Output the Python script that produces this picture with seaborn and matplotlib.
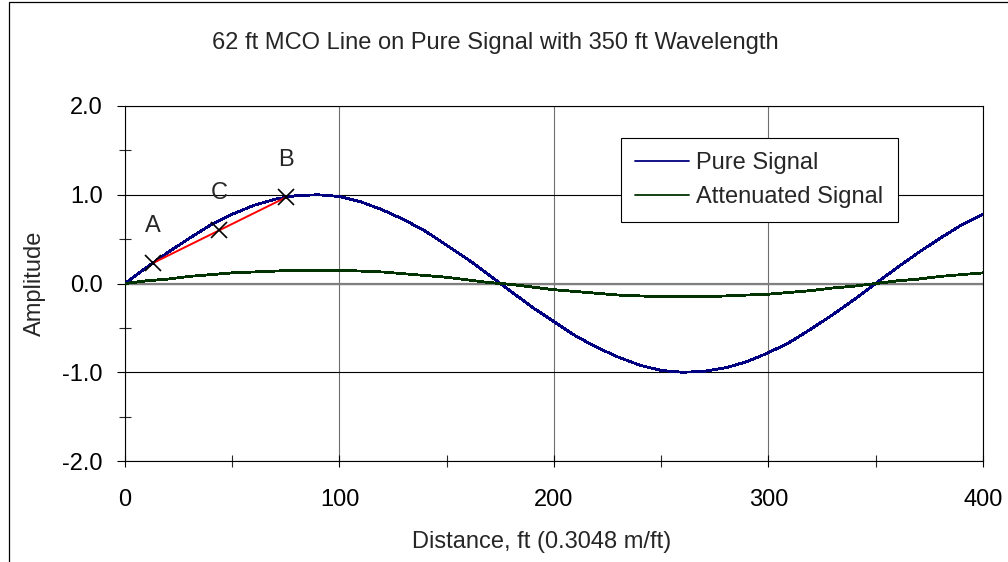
import numpy as np
import pandas as pd
import matplotlib
matplotlib.use('Agg')
import matplotlib.pyplot as plt
from matplotlib.patches import Rectangle
from matplotlib.ticker import MultipleLocator, FormatStrFormatter
import seaborn as sns

# --- data (every 10 ft) ---
distance_ft = list(range(0, 401, 10))
pure_signal = [0.00, 0.18, 0.35, 0.51, 0.66, 0.78, 0.88, 0.95, 0.99, 1.00,
               0.98, 0.92, 0.83, 0.72, 0.59, 0.43, 0.27, 0.09, -0.09, -0.27,
               -0.43, -0.59, -0.72, -0.83, -0.92, -0.98, -1.00, -0.99, -0.95, -0.88,
               -0.78, -0.66, -0.51, -0.35, -0.18, 0.00, 0.18, 0.35, 0.51, 0.66,
               0.78]
attenuated_signal = [0.00, 0.03, 0.05, 0.08, 0.10, 0.12, 0.13, 0.14, 0.15, 0.15,
                     0.15, 0.14, 0.13, 0.11, 0.09, 0.07, 0.04, 0.01, -0.01, -0.04,
                     -0.07, -0.09, -0.11, -0.13, -0.14, -0.15, -0.15, -0.15, -0.14, -0.13,
                     -0.12, -0.10, -0.08, -0.05, -0.03, 0.00, 0.03, 0.05, 0.08, 0.10,
                     0.12]
series_names = ['Pure Signal', 'Attenuated Signal']

# MCO chord points A, C, B
mco_x = [13, 44, 75]
mco_y = [0.23, 0.60, 0.97]
mco_labels = ['A', 'C', 'B']

df = pd.DataFrame({
    'Distance': distance_ft * 2,
    'Amplitude': pure_signal + attenuated_signal,
    'Series': [series_names[0]] * len(distance_ft) + [series_names[1]] * len(distance_ft),
})

sns.set_style('ticks')
plt.rcParams['font.family'] = ['Liberation Sans', 'DejaVu Sans']

fig = plt.figure(figsize=(10.08, 5.62), dpi=100)
ax = fig.add_axes([0.1240, 0.1797, 0.8512, 0.6317])

sns.lineplot(data=df, x='Distance', y='Amplitude', hue='Series',
             palette={'Pure Signal': '#000080', 'Attenuated Signal': '#003300'},
             linewidth=1.3, estimator=None, sort=False, antialiased=False,
             ax=ax, zorder=3)

ax.axhline(0, color='#808080', lw=1.6, zorder=2)

# chord A-C-B
ax.plot(mco_x, mco_y, color='red', lw=1.4, zorder=4)
ax.plot(mco_x, mco_y, ls='none', marker='x', ms=12, mew=1.2, color='black', zorder=5)
for x, y, lab in zip(mco_x, mco_y, mco_labels):
    ax.annotate(lab, (x, y), xytext=(0, 27), textcoords='offset points',
                ha='center', va='center', fontsize=17)

ax.set_xlim(0, 400)
ax.set_ylim(-2, 2)
ax.xaxis.set_major_locator(MultipleLocator(100))
ax.xaxis.set_minor_locator(MultipleLocator(50))
ax.yaxis.set_major_locator(MultipleLocator(1))
ax.yaxis.set_minor_locator(MultipleLocator(0.5))
ax.yaxis.set_major_formatter(FormatStrFormatter('%.1f'))

ax.tick_params(axis='x', which='major', direction='inout', length=9, width=0.8,
               pad=16, labelsize=17, colors='black')
ax.tick_params(axis='x', which='minor', direction='inout', length=8, width=0.8)
ax.tick_params(axis='y', which='major', direction='out', length=6, width=0.8,
               pad=10, labelsize=17, colors='black')
ax.tick_params(axis='y', which='minor', direction='inout', length=8.5, width=0.8)

ax.set_axisbelow(True)
ax.grid(axis='y', which='major', color='black', lw=0.8)
ax.grid(axis='x', which='major', color='#6e6e6e', lw=0.8)
for s in ax.spines.values():
    s.set_color('black')
    s.set_linewidth(0.8)

ax.set_xlabel('Distance, ft (0.3048 m/ft)', fontsize=17, va='center')
ax.set_ylabel('Amplitude', fontsize=17, va='center')
ax.xaxis.set_label_coords(0.486, -0.228)
ax.yaxis.set_label_coords(-0.105, 0.5)

handles, labels = ax.get_legend_handles_labels()
leg = ax.legend(handles, labels, loc='upper left', bbox_to_anchor=(0.578, 0.910),
                fontsize=17, frameon=True, fancybox=False, framealpha=1,
                edgecolor='black', handlelength=2.3, handletextpad=0.3,
                labelspacing=0.5, borderpad=0.6, borderaxespad=0)
leg.get_frame().set_linewidth(0.8)
leg.set_zorder(10)

fig.text(495 / 1008, 1 - 43 / 562, '62 ft MCO Line on Pure Signal with 350 ft Wavelength',
         ha='center', va='center', fontsize=17)

# outer chart border (only left and top edges are visible in the crop)
fig.add_artist(Rectangle((9 / 1008, -1), 5, 2 - 1.5 / 562, transform=fig.transFigure,
                         fill=False, edgecolor='black', lw=0.9))

fig.savefig('out.png', dpi=100)
